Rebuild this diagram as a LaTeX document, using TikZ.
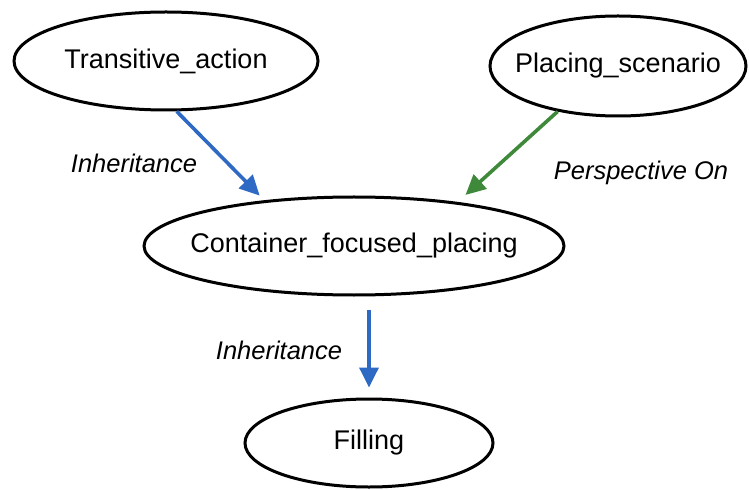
\documentclass[tikz,border=0pt]{standalone}
\usepackage{fontspec}
\setmainfont{Liberation Sans}
\usetikzlibrary{shapes.geometric,arrows.meta}
\definecolor{inhblue}{RGB}{46,105,196}
\definecolor{perspgreen}{RGB}{62,138,58}
% frame names take no width, so the ellipse keeps its set size
\newcommand\framename[1]{\makebox[0pt]{#1}}
\begin{document}
\begin{tikzpicture}[x=1bp,y=-1bp,
  frame/.style={ellipse,draw=black,line width=3bp,inner sep=0pt,
    font=\fontsize{27bp}{32bp}\selectfont},
  rel/.style={line width=3.6bp,-{Triangle[length=20bp,width=19bp]}},
  inh/.style={rel,draw=inhblue,fill=inhblue},
  persp/.style={rel,draw=perspgreen,fill=perspgreen},
  lbl/.style={font=\fontsize{25.5bp}{30bp}\selectfont\itshape,inner sep=0pt}]
\useasboundingbox (0,0) rectangle (749,490);

% frames
\node[frame,minimum width=304bp,minimum height=98bp] (T) at (166,61) {\framename{Transitive\_action}};
\node[frame,minimum width=256bp,minimum height=100bp] (P) at (618,66) {\framename{Placing\_scenario}};
\node[frame,minimum width=420bp,minimum height=98bp] (C) at (354,246) {\framename{Container\_focused\_placing}};
\node[frame,minimum width=248bp,minimum height=88bp] (F) at (369,443) {\framename{Filling}};

% relations
\draw[inh,shorten >=6.5bp] (T.-78) -- (C.153.3);
\draw[persp,shorten >=10.5bp] (P.217.6) -- (C.23.3);
\draw[inh,shorten <=13bp,shorten >=10bp] (F.north |- C.south) -- (F.north);

% relation labels
\node[lbl] (l1) at (134,163) {Inheritance};
\node[lbl] (l2) at (641,173) {Perspective On};
\node[lbl] (l3) at (279,350) {Inheritance};
\end{tikzpicture}
\end{document}
